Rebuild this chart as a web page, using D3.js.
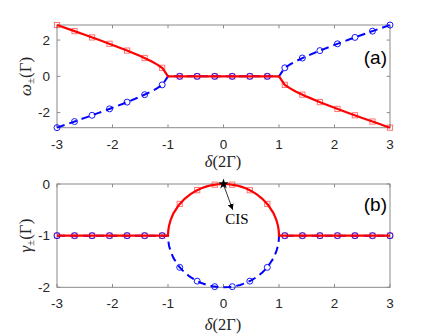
<!DOCTYPE html>
<html><head><meta charset="utf-8">
<script src="https://cdn.jsdelivr.net/npm/d3@7"></script>
<style>body{margin:0;background:#fff}svg{display:block}</style>
</head><body>
<svg id="c" width="432" height="335"></svg>
<script>
// ---- data ----
const delta = [-3,-2.684,-2.368,-2.053,-1.737,-1.421,-1.105,-0.789,-0.474,-0.158,0.158,0.474,0.789,1.105,1.421,1.737,2.053,2.368,2.684,3];
const omegaPlus  = [2.828,2.491,2.146,1.793,1.420,1.010,0.470,0,0,0,0,0,0,-0.470,-1.010,-1.420,-1.793,-2.146,-2.491,-2.828];
const omegaMinus = [-2.828,-2.491,-2.146,-1.793,-1.420,-1.010,-0.470,0,0,0,0,0,0,0.470,1.010,1.420,1.793,2.146,2.491,2.828];
const gammaPlus  = [-1,-1,-1,-1,-1,-1,-1,-0.386,-0.1195,-0.0126,-0.0126,-0.1195,-0.386,-1,-1,-1,-1,-1,-1,-1];
const gammaMinus = [-1,-1,-1,-1,-1,-1,-1,-1.614,-1.8805,-1.9874,-1.9874,-1.8805,-1.614,-1,-1,-1,-1,-1,-1,-1];

const lineDeltaA = [-3,-2.75,-2.5,-2.25,-2,-1.75,-1.5,-1.3,-1.2,-1.1,-1,0,1,1.1,1.2,1.3,1.5,1.75,2,2.25,2.5,2.75,3];
const lineOmegaPlus  = [2.828,2.562,2.291,2.016,1.732,1.436,1.118,0.831,0.663,0.458,0,0,0,-0.458,-0.663,-0.831,-1.118,-1.436,-1.732,-2.016,-2.291,-2.562,-2.828];
const lineOmegaMinus = [-2.828,-2.562,-2.291,-2.016,-1.732,-1.436,-1.118,-0.831,-0.663,-0.458,0,0,0,0.458,0.663,0.831,1.118,1.436,1.732,2.016,2.291,2.562,2.828];

const lineDeltaB = [-3,-2,-1,-0.995,-0.98,-0.95,-0.9,-0.8,-0.7,-0.6,-0.5,-0.4,-0.3,-0.2,-0.1,0,0.1,0.2,0.3,0.4,0.5,0.6,0.7,0.8,0.9,0.95,0.98,0.995,1,2,3];
const lineGammaPlus  = [-1,-1,-1,-0.9,-0.801,-0.688,-0.564,-0.4,-0.286,-0.2,-0.134,-0.0835,-0.0461,-0.0202,-0.005,0,-0.005,-0.0202,-0.0461,-0.0835,-0.134,-0.2,-0.286,-0.4,-0.564,-0.688,-0.801,-0.9,-1,-1,-1];
const lineGammaMinus = [-1,-1,-1,-1.1,-1.199,-1.312,-1.436,-1.6,-1.714,-1.8,-1.866,-1.9165,-1.954,-1.98,-1.995,-2,-1.995,-1.98,-1.954,-1.9165,-1.866,-1.8,-1.714,-1.6,-1.436,-1.312,-1.199,-1.1,-1,-1,-1];

const xTicks = [-3,-2,-1,0,1,2,3];
const yTicksA = [-2,0,2];
const yTicksB = [-2,-1,0];
const cisPoint = {x:0, y:0};
const cisArrowEnd = {x:0.166, y:-0.5};

// ---- drawing ----
const svg = d3.select("#c");
const RED = "#ff0000", BLUE = "#0000ff", PINK = "rgba(255,0,0,0.55)";

function panel(top, bottom, ydom, yticks, dLine, upLine, dnLine, up, dn, yLab, tag, xLabY, tickLabY, tagY){
  const x = d3.scaleLinear().domain([-3,3]).range([57,390]);
  const y = d3.scaleLinear().domain(ydom).range([bottom, top]);
  const g = svg.append("g");
  g.append("rect").attr("x",57).attr("y",top).attr("width",333).attr("height",bottom-top)
    .attr("fill","none").attr("stroke","#8a8a8a").attr("stroke-width",1);
  const tl = 3.3;
  xTicks.forEach(t=>{
    g.append("line").attr("x1",x(t)).attr("x2",x(t)).attr("y1",bottom).attr("y2",bottom-tl).attr("stroke","#8a8a8a");
    g.append("line").attr("x1",x(t)).attr("x2",x(t)).attr("y1",top).attr("y2",top+tl).attr("stroke","#8a8a8a");
    g.append("text").attr("x",x(t)).attr("y",tickLabY).attr("text-anchor","middle")
      .attr("font-family","Liberation Sans, Arial, sans-serif").attr("font-size",13.5).attr("fill","#262626").text(t);
  });
  yticks.forEach(t=>{
    g.append("line").attr("x1",57).attr("x2",57+tl).attr("y1",y(t)).attr("y2",y(t)).attr("stroke","#8a8a8a");
    g.append("line").attr("x1",390).attr("x2",390-tl).attr("y1",y(t)).attr("y2",y(t)).attr("stroke","#8a8a8a");
    g.append("text").attr("x",50).attr("y",y(t)+4.8).attr("text-anchor","end")
      .attr("font-family","Liberation Sans, Arial, sans-serif").attr("font-size",13.5).attr("fill","#262626").text(t);
  });
  const lineGen = (ys)=>d3.line().x((d,i)=>x(dLine[i])).y((d,i)=>y(ys[i]))(ys);
  g.append("path").attr("d",lineGen(dnLine)).attr("fill","none").attr("stroke",BLUE)
    .attr("stroke-width",2).attr("stroke-dasharray","8,5");
  g.selectAll(null).data(delta).enter().append("rect")
    .attr("x",(d)=>x(d)-2.6).attr("y",(d,i)=>y(up[i])-2.6).attr("width",5.2).attr("height",5.2)
    .attr("fill","none").attr("stroke",PINK).attr("stroke-width",1);
  g.selectAll(null).data(delta).enter().append("circle")
    .attr("cx",(d)=>x(d)).attr("cy",(d,i)=>y(dn[i])).attr("r",3)
    .attr("fill","none").attr("stroke",BLUE).attr("stroke-width",0.9);
  g.append("path").attr("d",lineGen(upLine)).attr("fill","none").attr("stroke",RED).attr("stroke-width",2.2);
  const xl = g.append("text").attr("x",223).attr("y",xLabY).attr("text-anchor","middle")
    .attr("font-family","Liberation Serif, Times New Roman, serif").attr("font-size",16.5).attr("fill","#262626");
  xl.append("tspan").attr("font-style","italic").text("δ");
  xl.append("tspan").text("(2Γ)");
  const cy = (top+bottom)/2;
  const yl = g.append("text").attr("transform",`translate(31,${cy}) rotate(-90)`).attr("text-anchor","middle")
    .attr("font-family","Liberation Serif, Times New Roman, serif").attr("font-size",17).attr("fill","#262626");
  yl.append("tspan").attr("font-style","italic").text(yLab);
  yl.append("tspan").attr("font-size",11).attr("dy",3).text("±");
  yl.append("tspan").attr("dy",-3).text("(Γ)");
  g.append("text").attr("x",387).attr("y",tagY).attr("text-anchor","end")
    .attr("font-family","Liberation Sans, Arial, sans-serif").attr("font-size",19).attr("fill","#000").text(tag);
  return {x,y,g};
}

panel(25,127.7,[-2.83,2.83],yTicksA,lineDeltaA,lineOmegaPlus,lineOmegaMinus,omegaPlus,omegaMinus,"ω","(a)",167,148.5,64);
const pb = panel(184,287.3,[-2,0],yTicksB,lineDeltaB,lineGammaPlus,lineGammaMinus,gammaPlus,gammaMinus,"γ","(b)",330,307.5,211);

svg.append("defs").append("marker").attr("id","ah").attr("viewBox","0 0 10 10").attr("refX",10).attr("refY",5)
  .attr("markerWidth",6).attr("markerHeight",6).attr("orient","auto").attr("markerUnits","userSpaceOnUse")
  .append("path").attr("d","M0,0 L10,5 L0,10 z").attr("fill","#000");
const sx = pb.x(cisPoint.x), sy = pb.y(cisPoint.y);
pb.g.append("line").attr("x1",sx+0.5).attr("y1",sy+2).attr("x2",pb.x(cisArrowEnd.x)).attr("y2",pb.y(cisArrowEnd.y))
  .attr("stroke","#000").attr("stroke-width",0.8).attr("marker-end","url(#ah)");
pb.g.append("path").attr("d",d3.symbol().type(d3.symbolStar).size(34)()).attr("transform",`translate(${sx},${sy})`).attr("fill","#000");
pb.g.append("text").attr("x",237).attr("y",223.5).attr("text-anchor","middle")
  .attr("font-family","Liberation Serif, Times New Roman, serif").attr("font-size",15).attr("fill","#000").text("CIS");
</script>
</body></html>
